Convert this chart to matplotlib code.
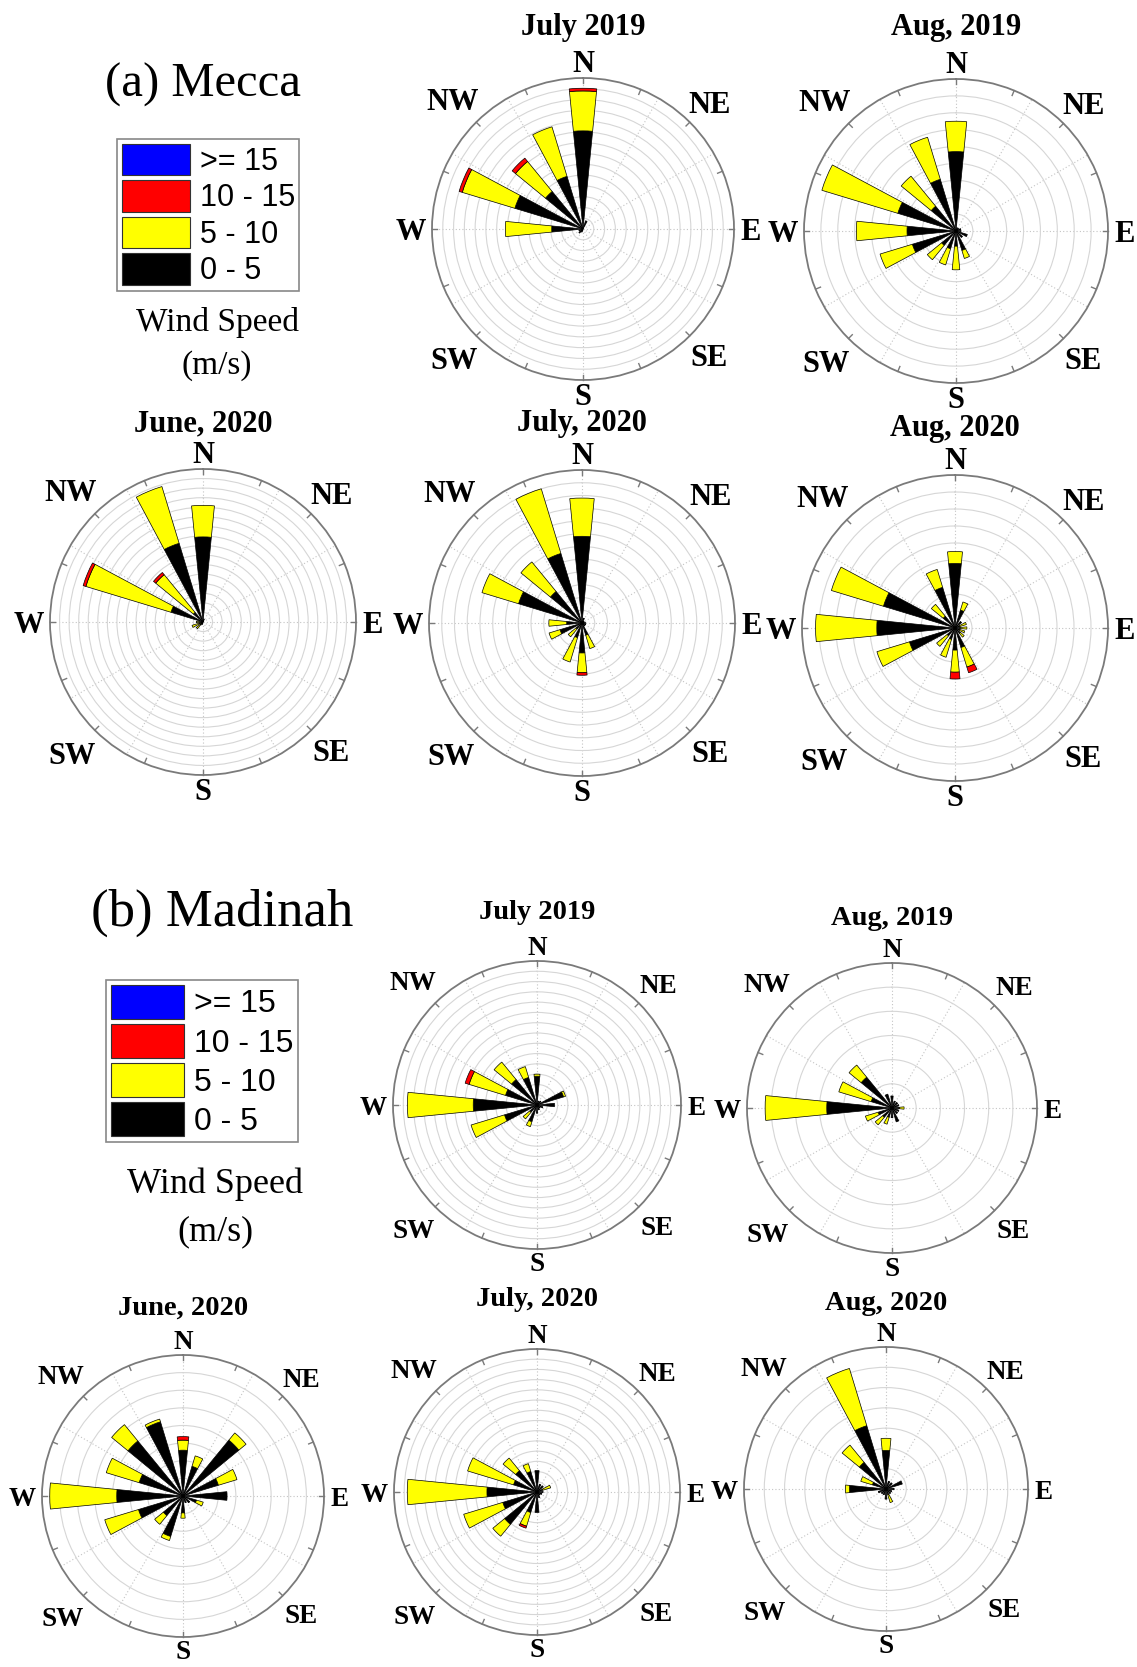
import numpy as np
import matplotlib
matplotlib.use("Agg")
import matplotlib.pyplot as plt
from matplotlib.patches import Patch

# 16 direction bins, clockwise from north
dirs = ["N", "NNE", "NE", "ENE", "E", "ESE", "SE", "SSE",
        "S", "SSW", "SW", "WSW", "W", "WNW", "NW", "NNW"]
speed_classes = ["0 - 5", "5 - 10", "10 - 15", ">= 15"]
class_colors = ["#000000", "#ffff00", "#ff0000", "#0000ff"]

# ---- Mecca (frequency, %) ----
mec_jul19_0_5 = [9.1, 0.8, 0, 0, 0, 0, 0, 0, 0, 0.3, 0.5, 0.4, 2.9, 6.6, 4.5, 5.1]
mec_jul19_5_10 = [3.7, 0, 0, 0, 0, 0, 0, 0, 0, 0, 0, 0, 4.3, 5.1, 3.6, 4.8]
mec_jul19_10_15 = [0.25, 0, 0, 0, 0, 0, 0, 0, 0, 0, 0, 0, 0, 0.3, 0.4, 0]

mec_aug19_0_5 = [4.7, 0.2, 0.2, 0.3, 0.3, 0.7, 0.5, 1.2, 0.9, 1.1, 1.1, 2.7, 2.9, 3.6, 1.9, 3.2]
mec_aug19_5_10 = [1.8, 0, 0, 0, 0, 0, 0, 0.5, 1.4, 1.0, 1.1, 2.0, 3.0, 4.7, 2.3, 2.6]
mec_aug19_10_15 = [0] * 16

mec_jun20_0_5 = [8.9, 0.3, 0, 0, 0, 0, 0, 0, 0, 0.3, 0.3, 0.3, 0.4, 3.5, 1.3, 8.6]
mec_jun20_5_10 = [3.3, 0, 0, 0, 0, 0, 0, 0, 0, 0, 0.6, 0.9, 0.3, 9.3, 5.1, 6.2]
mec_jun20_10_15 = [0, 0, 0, 0, 0, 0, 0, 0, 0, 0, 0, 0, 0, 0.3, 0.3, 0]

mec_jul20_0_5 = [6.8, 0.4, 0.2, 0.2, 0.3, 0.3, 0.3, 1.0, 2.35, 1.2, 0.6, 1.8, 1.2, 5.2, 3.2, 5.7]
mec_jul20_5_10 = [3.0, 0, 0, 0, 0, 0, 0, 1.1, 1.55, 2.0, 0.8, 0.9, 1.4, 3.0, 3.0, 5.3]
mec_jul20_10_15 = [0, 0, 0, 0, 0, 0, 0, 0, 0.2, 0, 0, 0, 0, 0, 0, 0]

mec_aug20_0_5 = [3.8, 1.1, 0.5, 0.3, 0.3, 0.3, 0.4, 1.2, 1.3, 0.7, 0.6, 2.8, 4.6, 4.4, 0.9, 2.5]
mec_aug20_5_10 = [0.7, 0.5, 0, 0.4, 0.4, 0.3, 0.3, 1.2, 1.3, 1.1, 0.8, 2.0, 3.6, 3.2, 0.9, 1.1]
mec_aug20_10_15 = [0, 0, 0, 0, 0, 0, 0, 0.35, 0.4, 0, 0, 0, 0, 0, 0, 0]

# ---- Madinah (frequency, %) ----
mad_jul19_0_5 = [2.8, 0.4, 0.5, 2.7, 1.7, 0.6, 0.4, 0.5, 0.8, 1.7, 0.9, 3.3, 6.2, 3.2, 3.2, 2.8]
mad_jul19_5_10 = [0.2, 0, 0, 0.2, 0, 0, 0, 0, 0, 0.5, 0.85, 3.4, 6.4, 3.7, 2.2, 1.1]
mad_jul19_10_15 = [0, 0, 0, 0, 0, 0, 0, 0, 0, 0, 0, 0, 0, 0.4, 0, 0]

mad_aug19_0_5 = [0.5, 0.3, 0.3, 0.3, 0.3, 0.3, 0.3, 0.6, 0.4, 0.4, 0.5, 0.6, 2.7, 0.9, 1.65, 0.6]
mad_aug19_5_10 = [0, 0, 0, 0, 0.2, 0, 0, 0, 0, 0.3, 0.4, 0.55, 2.55, 1.4, 0.65, 0]
mad_aug19_10_15 = [0] * 16

mad_jun20_0_5 = [2.6, 1.76, 4.1, 2.1, 2.5, 0.8, 0.5, 0.4, 0.96, 2.4, 1.44, 2.64, 3.76, 2.6, 4.04, 4.4]
mad_jun20_5_10 = [0.57, 0.62, 0.53, 1.1, 0, 0.4, 0, 0, 0.3, 0.24, 0.64, 2.0, 3.8, 1.95, 1.2, 0.16]
mad_jun20_10_15 = [0.2, 0, 0, 0, 0, 0, 0, 0, 0, 0, 0, 0, 0, 0, 0, 0]

mad_jul20_0_5 = [2.1, 0.8, 0.8, 0.6, 0.6, 0.5, 0.4, 0.6, 2.0, 2.1, 4.1, 3.5, 4.9, 2.4, 2.7, 2.1]
mad_jul20_5_10 = [0, 0, 0, 0.8, 0, 0, 0, 0, 0, 1.4, 1.5, 4.0, 7.8, 4.7, 1.6, 0.8]
mad_jul20_10_15 = [0, 0, 0, 0, 0, 0, 0, 0, 0, 0.2, 0, 0, 0, 0, 0, 0]

mad_aug20_0_5 = [1.9, 0.4, 0.4, 0.84, 0.4, 0.3, 0.3, 0.3, 0.5, 0.3, 0.3, 0.4, 1.8, 0.7, 1.7, 3.26]
mad_aug20_5_10 = [0.6, 0, 0, 0, 0, 0, 0, 0.4, 0, 0, 0, 0, 0.2, 0.6, 1.1, 2.95]
mad_aug20_10_15 = [0] * 16

W, H = 1137, 1667
fig = plt.figure(figsize=(W / 100, H / 100), dpi=100)
fig.patch.set_facecolor("white")

theta = np.deg2rad(np.arange(16) * 22.5)
bar_w = np.deg2rad(11.25)
compass = [("N", 0, 1.11), ("NE", 45, 1.19), ("E", 90, 1.11), ("SE", 135, 1.18),
           ("S", 180, 1.09), ("SW", 225, 1.21), ("W", 270, 1.14), ("NW", 315, 1.22)]
serif = "Liberation Serif"


def draw_rose(cx, cy, R, title, title_y, classes, n_rings, title_size, label_size):
    ax = fig.add_axes([(cx - R) / W, 1 - (cy + R) / H, 2 * R / W, 2 * R / H],
                      projection="polar")
    ax.set_theta_zero_location("N")
    ax.set_theta_direction(-1)
    bottom = np.zeros(16)
    for vals, col in zip(classes, class_colors):
        vals = np.asarray(vals, dtype=float)
        m = vals > 0
        if m.any():
            ax.bar(theta[m], vals[m], width=bar_w, bottom=bottom[m], color=col,
                   edgecolor="black", linewidth=0.5, zorder=3)
        bottom += vals
    for t in np.deg2rad(np.arange(0, 360, 22.5)):
        ax.plot([t, t], [n_rings * 0.965, n_rings], color="#7a7a7a", lw=1,
                clip_on=False, zorder=4)
    ax.set_rgrids(np.arange(1, n_rings), labels=[])
    ax.set_thetagrids(np.arange(0, 360, 30), labels=[])
    ax.yaxis.grid(True, color="#d6d6d6", lw=0.8, ls="-")
    ax.xaxis.grid(True, color="#c4c4c4", lw=0.8, ls=(0, (1, 2)))
    ax.set_axisbelow(True)
    ax.spines["polar"].set_color("#7a7a7a")
    ax.spines["polar"].set_linewidth(1.3)
    ax.tick_params(length=0)
    ax.set_ylim(0, n_rings)
    for name, ang, f in compass:
        ax.text(np.deg2rad(ang), n_rings * f, name, ha="center", va="center_baseline",
                fontsize=label_size, fontweight="bold", family=serif)
    fig.text(cx / W, 1 - title_y / H, title, ha="center", va="center",
             fontsize=title_size, fontweight="bold", family=serif)


# Mecca
draw_rose(583, 229, 151, "July 2019", 27, [mec_jul19_0_5, mec_jul19_5_10, mec_jul19_10_15], 14, 22, 22)
draw_rose(956, 231, 152, "Aug, 2019", 27, [mec_aug19_0_5, mec_aug19_5_10, mec_aug19_10_15], 9, 22, 22)
draw_rose(203, 622, 153, "June, 2020", 424, [mec_jun20_0_5, mec_jun20_5_10, mec_jun20_10_15], 16, 22, 22)
draw_rose(582, 623, 153, "July, 2020", 424, [mec_jul20_0_5, mec_jul20_5_10, mec_jul20_10_15], 12, 22, 22)
draw_rose(955, 628, 153, "Aug, 2020", 428, [mec_aug20_0_5, mec_aug20_5_10, mec_aug20_10_15], 9, 22, 22)
# Madinah
draw_rose(537, 1105, 144, "July 2019", 912, [mad_jul19_0_5, mad_jul19_5_10, mad_jul19_10_15], 14, 20.5, 19.5)
draw_rose(892, 1108, 145, "Aug, 2019", 918, [mad_aug19_0_5, mad_aug19_5_10, mad_aug19_10_15], 6, 20.5, 19.5)
draw_rose(183, 1496, 141, "June, 2020", 1308, [mad_jun20_0_5, mad_jun20_5_10, mad_jun20_10_15], 8, 20.5, 19.5)
draw_rose(537, 1492, 143, "July, 2020", 1299, [mad_jul20_0_5, mad_jul20_5_10, mad_jul20_10_15], 14, 20.5, 19.5)
draw_rose(886, 1489, 142, "Aug, 2020", 1303, [mad_aug20_0_5, mad_aug20_5_10, mad_aug20_10_15], 7, 20.5, 19.5)

# panel headings
fig.text(203 / W, 1 - 85 / H, "(a) Mecca", ha="center", va="center", fontsize=35, family=serif)
fig.text(222 / W, 1 - 913 / H, "(b) Madinah", ha="center", va="center", fontsize=38, family=serif)

# legends
handles = [Patch(facecolor=c, edgecolor="#333333", lw=0.8, label=l)
           for l, c in zip(speed_classes[::-1], class_colors[::-1])]
for (x0, y0, fs, hl, hh, ls), (tx, ty1, ty2, tfs) in [
        ((117, 139, 22, 2.25, 1.2, 0.12), (217, 323, 366, 24)),
        ((106, 980, 23, 2.3, 1.25, 0.14), (215, 1184, 1232, 26))]:
    leg = fig.legend(handles=handles, loc="upper left", bbox_to_anchor=(x0 / W, 1 - y0 / H),
                     prop={"family": "Liberation Sans", "size": fs}, handlelength=hl,
                     handleheight=hh, labelspacing=ls, borderpad=0.15, borderaxespad=0,
                     handletextpad=0.3, fancybox=False, framealpha=1, edgecolor="#888888")
    leg.get_frame().set_linewidth(1.2)
    fig.text(tx / W, 1 - ty1 / H, "Wind Speed", ha="center", va="center", fontsize=tfs, family=serif)
    fig.text(tx / W, 1 - ty2 / H, "(m/s)", ha="center", va="center", fontsize=tfs, family=serif)

fig.savefig("out.png", dpi=100, facecolor="white")
